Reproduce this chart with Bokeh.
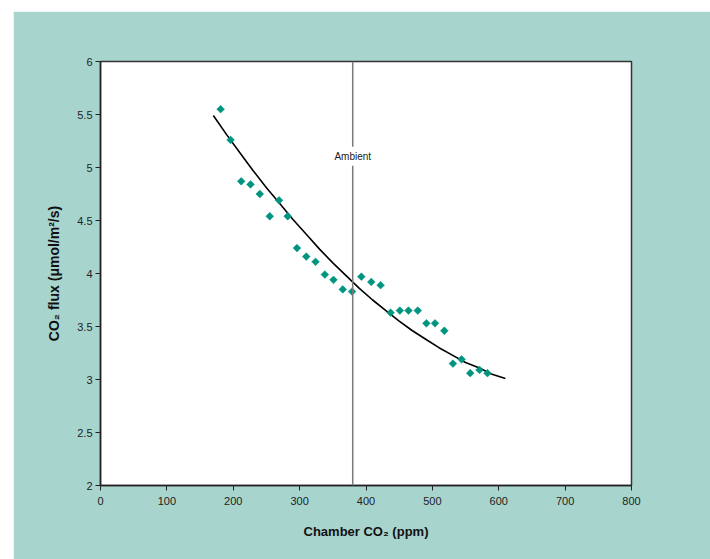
import math
from bokeh.plotting import figure
from bokeh.models import Span, Label, FixedTicker, Range1d
from bokeh.embed import file_html
from bokeh.resources import INLINE

# Measured points
chamber_co2 = [181, 196, 212, 226, 240, 255, 269, 282, 296, 310, 324, 338, 351, 365, 379,
               393, 408, 422, 437, 451, 464, 478, 491, 504, 518, 531, 544, 557, 571, 583]
co2_flux = [5.55, 5.26, 4.87, 4.84, 4.75, 4.54, 4.69, 4.54, 4.24, 4.16, 4.11, 3.99, 3.94, 3.85, 3.83,
            3.97, 3.92, 3.89, 3.63, 3.65, 3.65, 3.65, 3.53, 3.53, 3.46, 3.15, 3.19, 3.06, 3.09, 3.06]

# Fitted curve
fit_x = [170, 190, 210, 230, 250, 270, 290, 310, 330, 350, 370, 390, 410, 430, 450,
         470, 490, 510, 530, 550, 570, 590, 610]
fit_y = [5.49, 5.31, 5.14, 4.97, 4.81, 4.66, 4.51, 4.37, 4.23, 4.10, 3.98, 3.86, 3.75, 3.65, 3.55,
         3.46, 3.38, 3.30, 3.23, 3.16, 3.11, 3.05, 3.01]

ambient_x = 380
ambient_label = "Ambient"

x_ticks = [0, 100, 200, 300, 400, 500, 600, 700, 800]
y_ticks = [2, 2.5, 3, 3.5, 4, 4.5, 5, 5.5, 6]

TEAL_BG = "#a8d4ce"
MARK = "#009480"
FONT = "Liberation Sans"

p = figure(width=697, height=548, output_backend="svg", toolbar_location=None,
           x_range=Range1d(0, 800), y_range=Range1d(2, 6),
           min_border_left=87, min_border_top=50, min_border_right=79, min_border_bottom=74)
p.margin = (11, 0, 0, 13)
p.border_fill_color = TEAL_BG
p.background_fill_color = "white"
p.outline_line_color = "#333333"
p.outline_line_width = 1.5
p.xgrid.visible = False
p.ygrid.visible = False

for ax in (p.xaxis[0], p.yaxis[0]):
    ax.axis_line_color = "#222222"
    ax.axis_line_width = 1.5
    ax.major_tick_line_color = "#222222"
    ax.major_tick_out = 5
    ax.major_tick_in = 0
    ax.minor_tick_line_color = None
    ax.major_label_text_font = FONT
    ax.major_label_text_font_size = "11px"
    ax.major_label_text_color = "#222222"
    ax.axis_label_text_font = FONT
    ax.axis_label_text_font_size = "13px"
    ax.axis_label_text_font_style = "bold"
    ax.axis_label_text_color = "#111111"

p.yaxis.axis_label_text_font_size = "14px"
p.xaxis.ticker = FixedTicker(ticks=x_ticks)
p.yaxis.ticker = FixedTicker(ticks=y_ticks)
p.xaxis.major_label_overrides = {t: str(t) for t in x_ticks}
p.yaxis.major_label_overrides = {t: (str(int(t)) if float(t).is_integer() else str(t)) for t in y_ticks}
p.xaxis.axis_label = "Chamber CO₂ (ppm)"
p.yaxis.axis_label = "CO₂ flux (μmol/m²/s)"
p.xaxis.major_label_standoff = 6
p.yaxis.major_label_standoff = 3
p.xaxis.axis_label_standoff = 16
p.yaxis.axis_label_standoff = 12

span = Span(location=ambient_x, dimension="height", line_color="#7a7a7a", line_width=1.5)
p.add_layout(span)

p.line(fit_x, fit_y, line_color="black", line_width=1.6)
p.scatter(chamber_co2, co2_flux, marker="square", angle=math.pi / 4, size=5.5,
          fill_color=MARK, line_color=MARK, line_width=0.5)

lbl = Label(x=ambient_x, y=5.105, text=ambient_label, text_align="center", text_baseline="middle",
            text_font=FONT, text_font_size="10px", text_color="#222222",
            background_fill_color="white", background_fill_alpha=1.0, padding=4)
p.add_layout(lbl)

open("out.html", "w").write(file_html(p, INLINE))
